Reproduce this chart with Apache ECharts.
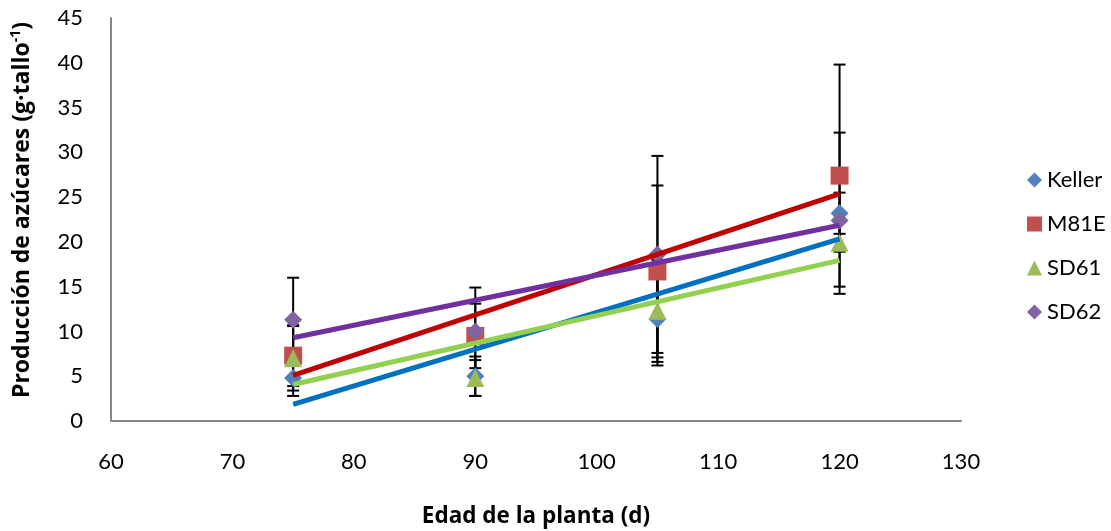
<!DOCTYPE html>
<html>
<head>
<meta charset="utf-8">
<script src="https://cdn.jsdelivr.net/npm/echarts@6/dist/echarts.min.js"></script>
<style>html,body{margin:0;padding:0;background:#fff}#c{width:1111px;height:531px}</style>
</head>
<body>
<div id="c"></div>
<script>
const days = [75, 90, 105, 120];
const seriesNames = ['Keller', 'M81E', 'SD61', 'SD62'];
const kellerMean = [4.8, 5.0, 11.4, 23.2];
const kellerErr = [2.0, 2.2, 5.2, 9.0];
const m81eMean = [7.3, 9.5, 16.7, 27.4];
const m81eErr = [3.4, 3.6, 9.6, 12.4];
const sd61Mean = [7.0, 4.8, 12.3, 19.9];
const sd61Err = [3.6, 2.0, 5.7, 1.0];
const sd62Mean = [11.3, 10.0, 18.6, 22.4];
const sd62Err = [4.7, 4.9, 11.0, 3.1];
const xTicks = [60, 70, 80, 90, 100, 110, 120, 130];
const yTicks = [0, 5, 10, 15, 20, 25, 30, 35, 40, 45];

const means = [kellerMean, m81eMean, sd61Mean, sd62Mean];
const errs = [kellerErr, m81eErr, sd61Err, sd62Err];
const markerColors = ['#4F81BD', '#C0504D', '#9BBB59', '#8064A2'];
const trendColors = ['#0070C0', '#C00000', '#92D050', '#7030A0'];
const symbols = ['diamond', 'rect', 'triangle', 'diamond'];
const symbolSizes = [18, 18, 18, 18];
const FONT = 'Lato';
const TFONT = 'Open Sans';

function linreg(xs, ys) {
  const n = xs.length;
  const mx = xs.reduce((a, b) => a + b, 0) / n;
  const my = ys.reduce((a, b) => a + b, 0) / n;
  let sxy = 0, sxx = 0;
  for (let i = 0; i < n; i++) { sxy += (xs[i] - mx) * (ys[i] - my); sxx += (xs[i] - mx) ** 2; }
  const b = sxy / sxx;
  return x => my + b * (x - mx);
}

const series = [];
// error bars
means.forEach((m, si) => {
  series.push({
    type: 'custom', name: seriesNames[si] + ' err', z: 1, silent: true,
    data: days.map((d, i) => [d, m[i] - errs[si][i], m[i] + errs[si][i]]),
    renderItem: function (params, api) {
      const x = api.value(0);
      const lo = api.coord([x, api.value(1)]);
      const hi = api.coord([x, api.value(2)]);
      const hw = 6;
      const st = { stroke: '#000', lineWidth: 2 };
      return { type: 'group', children: [
        { type: 'line', shape: { x1: lo[0], y1: lo[1], x2: hi[0], y2: hi[1] }, style: st },
        { type: 'line', shape: { x1: lo[0] - hw, y1: lo[1], x2: lo[0] + hw, y2: lo[1] }, style: st },
        { type: 'line', shape: { x1: hi[0] - hw, y1: hi[1], x2: hi[0] + hw, y2: hi[1] }, style: st }
      ]};
    }
  });
});
// markers
means.forEach((m, si) => {
  series.push({
    type: 'scatter', name: seriesNames[si], z: 2,
    symbol: symbols[si], symbolSize: symbolSizes[si],
    itemStyle: { color: markerColors[si], opacity: 1 },
    data: days.map((d, i) => [d, m[i]])
  });
});
// trendlines
means.forEach((m, si) => {
  const f = linreg(days, m);
  const x0 = days[0], x1 = days[days.length - 1];
  series.push({
    type: 'line', name: seriesNames[si] + ' trend', z: 3, silent: true,
    showSymbol: false, symbol: 'none',
    lineStyle: { color: trendColors[si], width: 5 },
    data: [[x0, f(x0)], [x1, f(x1)]]
  });
});

const chart = echarts.init(document.getElementById('c'));
chart.setOption({
  animation: false,
  backgroundColor: '#fff',
  textStyle: { fontFamily: FONT },
  grid: { left: 111, top: 18, width: 850, height: 403, containLabel: false },
  xAxis: {
    type: 'value', min: xTicks[0], max: xTicks[xTicks.length - 1], interval: 10,
    axisLine: { show: true, lineStyle: { color: '#868686', width: 2 } },
    axisTick: { show: false }, splitLine: { show: false },
    axisLabel: { color: '#000', fontSize: 22, fontFamily: FONT, margin: 30 }
  },
  yAxis: {
    type: 'value', min: yTicks[0], max: yTicks[yTicks.length - 1], interval: 5,
    axisLine: { show: true, lineStyle: { color: '#868686', width: 2 } },
    axisTick: { show: false }, splitLine: { show: false },
    axisLabel: { color: '#000', fontSize: 22, fontFamily: FONT, margin: 28 }
  },
  legend: {
    data: seriesNames.map((n, i) => ({ name: n, icon: symbols[i] })),
    orient: 'vertical', left: 1022, top: 164, itemGap: 22,
    itemWidth: 15, itemHeight: 15,
    textStyle: { fontSize: 22, color: '#000', fontFamily: FONT }
  },
  graphic: [
    { type: 'text', x: 536, y: 517,
      style: { text: 'Edad de la planta (d)', fontFamily: TFONT, fontWeight: 'bold', fontSize: 22.5, fill: '#000', align: 'center', verticalAlign: 'middle' } },
    { type: 'text', x: 22, y: 210, rotation: Math.PI / 2,
      style: {
        text: 'Producción de azúcares (g·tallo{s|-1})',
        fontFamily: TFONT, fontWeight: 'bold', fontSize: 23, fill: '#000',
        align: 'center', verticalAlign: 'middle',
        rich: { s: { fontFamily: TFONT, fontWeight: 'bold', fontSize: 14, verticalAlign: 'top', padding: [0, 0, 11, 0] } }
      } }
  ],
  series: series
});
</script>
</body>
</html>
